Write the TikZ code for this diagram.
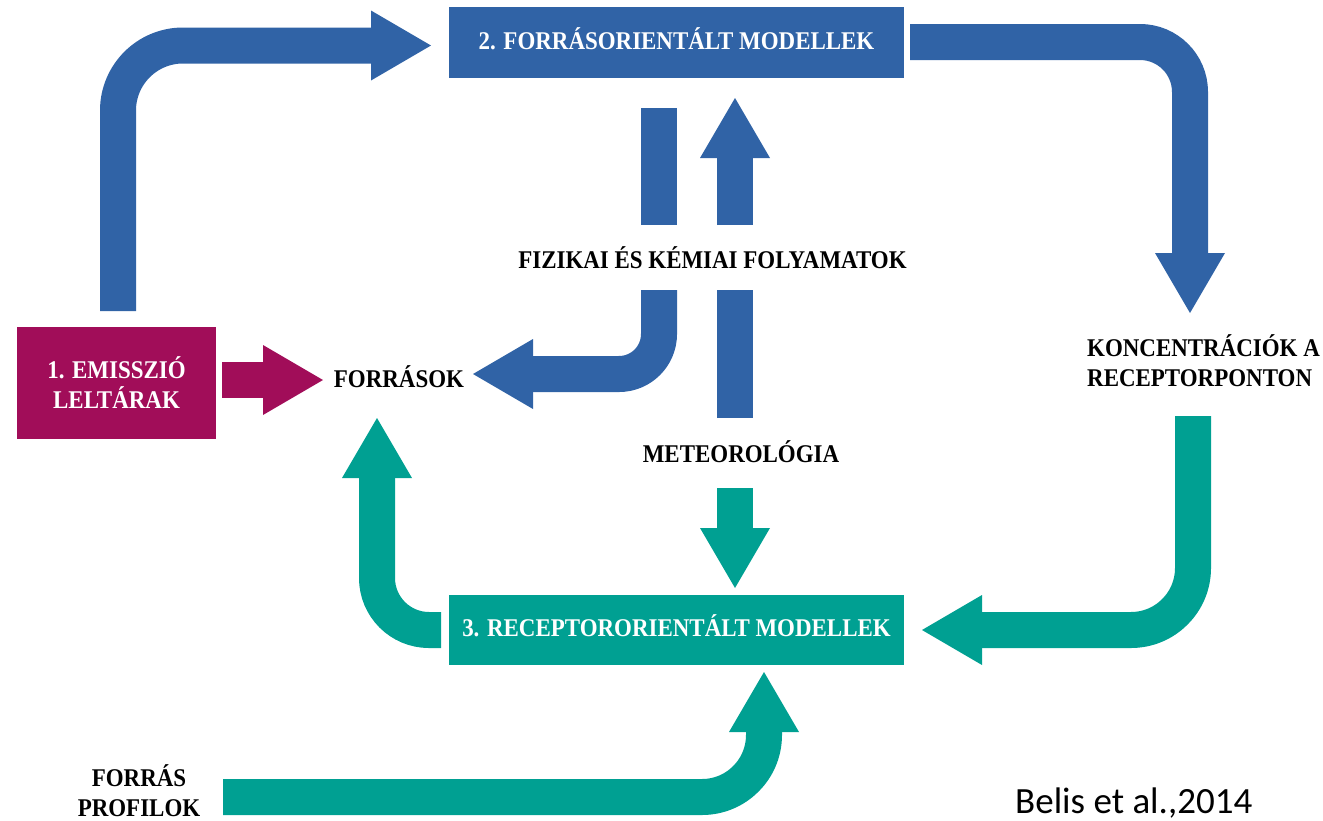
\documentclass[tikz,border=0pt]{standalone}
\usepackage{fontspec}
\setmainfont{Liberation Serif}[FakeStretch=0.9]
\newfontfamily\calibri{Carlito}
\usetikzlibrary{arrows.meta,calc}
\definecolor{cblue}{RGB}{48,99,166}
\definecolor{cteal}{RGB}{0,160,146}
\definecolor{cmag}{RGB}{161,13,89}
\begin{document}
\begin{tikzpicture}[x=1pt,y=-1pt,
  lbl/.style={font=\fontsize{25.5pt}{30pt}\selectfont\bfseries, inner sep=0pt},
  box/.style={lbl, text=white, minimum width=455pt},
  flow/.style={line width=36pt},
  tipb/.style={-{Triangle[length=60pt,width=70pt,line width=0pt]}},
]
\useasboundingbox (0,0) rectangle (1323,820);

% boxes
\node[box, fill=cblue, minimum height=71pt, text height=13pt, text depth=0pt] (m2) at (676.5,42.5) {2. FORRÁSORIENTÁLT MODELLEK};
\node[box, fill=cteal, minimum height=70pt, text height=12pt, text depth=0pt] (m3) at (676.5,630) {3. RECEPTORORIENTÁLT MODELLEK};
\node[lbl, text=white, fill=cmag, minimum width=199pt, minimum height=112pt, align=center] (m1) at (116.5,383) {1. EMISSZIÓ\\LELTÁRAK};

% labels
\node[lbl, anchor=base] (fk) at (712.5,268) {FIZIKAI ÉS KÉMIAI FOLYAMATOK};
\node[lbl, anchor=base] (met) at (741,462) {METEOROLÓGIA};
\node[lbl, anchor=base] (src) at (399,387) {FORRÁSOK};
\node[lbl, anchor=south west, align=left, text depth=0pt] (conc) at (1087,387) {KONCENTRÁCIÓK A\\RECEPTORPONTON};
\node[lbl, anchor=south, align=center, text depth=0pt] (prof) at (139,817) {FORRÁS\\PROFILOK};
\node[font=\calibri\fontsize{37pt}{44pt}\selectfont, anchor=base west, inner sep=0pt] (cite) at (1015,813) {Belis et al.,2014};

% coordinates for arrow ends
\coordinate (a0) at (118,311);
\coordinate (a2) at (431,45.5);
\coordinate (b0) at (910,42);
\coordinate (b2) at (1190,313);
\coordinate (c0) at (659,108);
\coordinate (c1) at (659,225);
\coordinate (c2) at (659,290);
\coordinate (c3) at (473,374);
\coordinate (d0) at (735,418);
\coordinate (d1) at (735,290);
\coordinate (d2) at (735,225);
\coordinate (d3) at (735,98);
\coordinate (e0) at (222,380);
\coordinate (e1) at (323,380);
\coordinate (f0) at (735,488);
\coordinate (f1) at (735,588);
\coordinate (g0) at (1193,416);
\coordinate (g1) at (922,630);
\coordinate (h0) at (441,630);
\coordinate (h1) at (377,418);
\coordinate (i0) at (223,797);
\coordinate (i1) at (764,672);

% blue arrows
\draw[flow, cblue, tipb, rounded corners=65pt] (a0) |- (a2);
\draw[flow, cblue, tipb, rounded corners=50pt] (b0) -| (b2);
\draw[flow, cblue] (c0) -- (c1);
\draw[flow, cblue, tipb, rounded corners=40pt] (c2) |- (c3);
\draw[flow, cblue] (d0) -- (d1);
\draw[flow, cblue, tipb] (d2) -- (d3);
% magenta arrow
\draw[flow, cmag, tipb] (e0) -- (e1);
% teal arrows
\draw[flow, cteal, tipb] (f0) -- (f1);
\draw[flow, cteal, tipb, rounded corners=62pt] (g0) |- (g1);
\draw[flow, cteal, tipb, rounded corners=52pt] (h0) -| (h1);
\draw[flow, cteal, tipb, rounded corners=62pt] (i0) -| (i1);
\end{tikzpicture}
\end{document}
